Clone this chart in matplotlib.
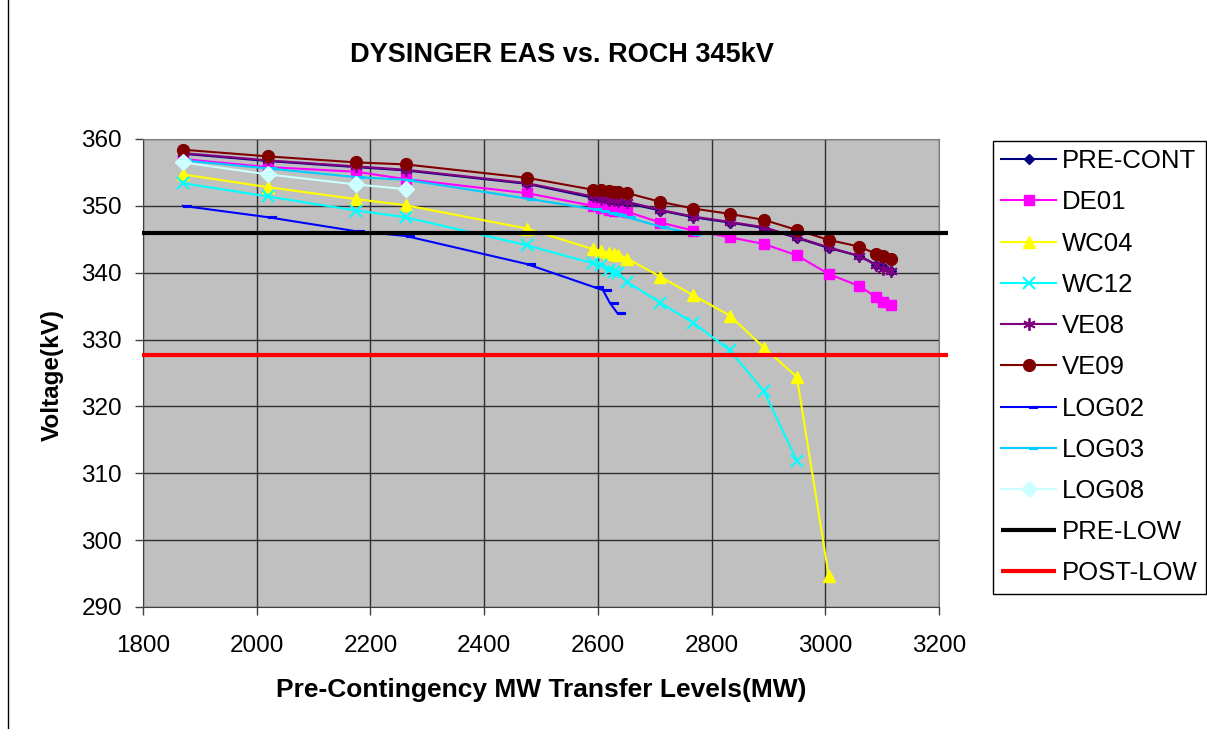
import matplotlib
matplotlib.use("Agg")
import matplotlib.pyplot as plt
from matplotlib.path import Path
from matplotlib.lines import Line2D

plt.rcParams['font.family'] = ['Liberation Sans', 'DejaVu Sans']

# transfer levels (MW) shared by most cases
x_levels = [1870, 2020, 2175, 2262, 2475, 2592, 2606, 2620, 2628, 2636, 2652,
            2710, 2768, 2832, 2892, 2950, 3006, 3060, 3090, 3102, 3115]

pre_cont = [357.8, 356.7, 355.8, 355.3, 353.3, 351.2, 351.0, 350.8, 350.7, 350.6, 350.4,
            349.3, 348.3, 347.5, 346.7, 345.2, 343.7, 342.5, 341.2, 340.8, 340.3]
de01 = [357.0, 355.8, 355.1, 354.0, 351.9, 350.0, 349.7, 349.4, 349.3, 349.2, 349.1,
        347.5, 346.3, 345.3, 344.3, 342.6, 339.8, 338.0, 336.3, 335.6, 335.1]
wc04 = [354.7, 352.8, 351.0, 350.1, 346.6, 343.5, 343.3, 342.9, 342.8, 342.7, 342.1,
        339.4, 336.6, 333.6, 328.8, 324.4, 294.7]
wc12 = [353.4, 351.4, 349.3, 348.3, 344.1, 341.4, 341.1, 340.4, 340.1, 340.0, 338.6,
        335.5, 332.5, 328.4, 322.3, 311.9]
ve08 = [357.9, 356.8, 355.9, 355.4, 353.4, 351.4, 351.1, 350.9, 350.9, 350.8, 350.6,
        349.4, 348.4, 347.6, 346.8, 345.3, 343.8, 342.5, 341.1, 340.6, 340.3]
ve09 = [358.4, 357.4, 356.5, 356.2, 354.2, 352.4, 352.4, 352.2, 352.1, 352.1, 351.9,
        350.6, 349.6, 348.8, 347.9, 346.4, 344.9, 343.9, 342.8, 342.5, 342.0]
log02_x = [1870, 2020, 2175, 2262, 2475, 2595, 2609, 2621, 2634]
log02 = [350.0, 348.3, 346.2, 345.5, 341.3, 337.8, 337.4, 335.5, 334.0]
log03 = [356.8, 355.6, 354.3, 353.9, 351.1, 349.5, 349.3, 349.0, 348.8, 348.6, 348.3,
         346.9, 345.8]
log08 = [356.5, 354.7, 353.2, 352.5]

limit_x = [1798, 3215]
pre_low = 346.0
post_low = 327.75

x_ticks = list(range(1800, 3201, 200))
y_ticks = list(range(290, 361, 10))

# dash marker that starts at the point and runs to the right (as Excel draws it)
dash = Path([(0, -0.16), (1, -0.16), (1, 0.16), (0, 0.16), (0, -0.16)],
            [Path.MOVETO, Path.LINETO, Path.LINETO, Path.LINETO, Path.CLOSEPOLY])

W, H = 1207, 729
fig = plt.figure(figsize=(W / 100, H / 100), dpi=100, facecolor='white')
l, r, t, b = 143, 939, 139, 607
ax = fig.add_axes([l / W, 1 - b / H, (r - l) / W, (b - t) / H])
ax.set_facecolor('#C0C0C0')

lw = 1.5
series = [
    ('PRE-CONT', x_levels, pre_cont, dict(color='#000080', marker='D', ms=5)),
    ('DE01', x_levels, de01, dict(color='#FF00FF', marker='s', ms=7)),
    ('WC04', x_levels[:len(wc04)], wc04, dict(color='#FFFF00', marker='^', ms=9)),
    ('WC12', x_levels[:len(wc12)], wc12, dict(color='#00FFFF', marker='x', ms=9, mew=1.5)),
    ('VE08', x_levels, ve08, dict(color='#800080', marker=(6, 2, 0), ms=9, mew=1.3)),
    ('VE09', x_levels, ve09, dict(color='#800000', marker='o', ms=8.5)),
    ('LOG02', log02_x, log02, dict(color='#0000FF', marker=dash, ms=11, mew=0.8)),
    ('LOG03', x_levels[:len(log03)], log03, dict(color='#00CCFF', marker=dash, ms=11, mew=0.8)),
    ('LOG08', x_levels[:len(log08)], log08, dict(color='#CCFFFF', marker='D', ms=8)),
]
z = 3
for name, xs, ys, st in series:
    ax.plot(xs, ys, lw=lw, label=name, zorder=z, **st)
    z += 1

ax.plot(limit_x, [pre_low, pre_low], color='black', lw=3, label='PRE-LOW',
        zorder=z, clip_on=False, solid_capstyle='butt')
ax.plot(limit_x, [post_low, post_low], color='#FF0000', lw=3, label='POST-LOW',
        zorder=z + 1, clip_on=False, solid_capstyle='butt')

ax.set_xlim(1800, 3200)
ax.set_ylim(290, 360)
ax.set_xticks(x_ticks)
ax.set_yticks(y_ticks)
ax.grid(True, color='#303030', lw=1)
ax.set_axisbelow(True)
ax.tick_params(axis='both', direction='out', length=6, width=1, color='#404040',
               labelsize=17.5)
ax.tick_params(axis='x', pad=14)
ax.tick_params(axis='y', pad=9)
for side in ('left', 'bottom'):
    ax.spines[side].set_color('#404040')
for side in ('top', 'right'):
    ax.spines[side].set_color('#808080')

fig.text(52 / W, 1 - 375 / H, 'Voltage(kV)', rotation=90, ha='center', va='center',
         fontsize=17.5, fontweight='bold')
fig.text(541 / W, 1 - 690 / H, 'Pre-Contingency MW Transfer Levels(MW)',
         ha='center', va='center', fontsize=19, fontweight='bold')
fig.text(562 / W, 1 - 55 / H, 'DYSINGER EAS vs. ROCH 345kV', ha='center', va='center',
         fontsize=19.5, fontweight='bold')

leg = fig.legend(loc='upper left', bbox_to_anchor=(993 / W, 1 - 141 / H),
                 fontsize=18.5, frameon=True, fancybox=False, edgecolor='black',
                 framealpha=1, borderpad=0.32, labelspacing=0.67, handlelength=2.14,
                 handletextpad=0.23, borderaxespad=0)
leg.get_frame().set_linewidth(1)

# left edge of the chart border
fig.add_artist(Line2D([8 / W, 8 / W], [0, 1], transform=fig.transFigure,
                      color='black', lw=1))

fig.savefig('out.png', dpi=100, facecolor='white')
